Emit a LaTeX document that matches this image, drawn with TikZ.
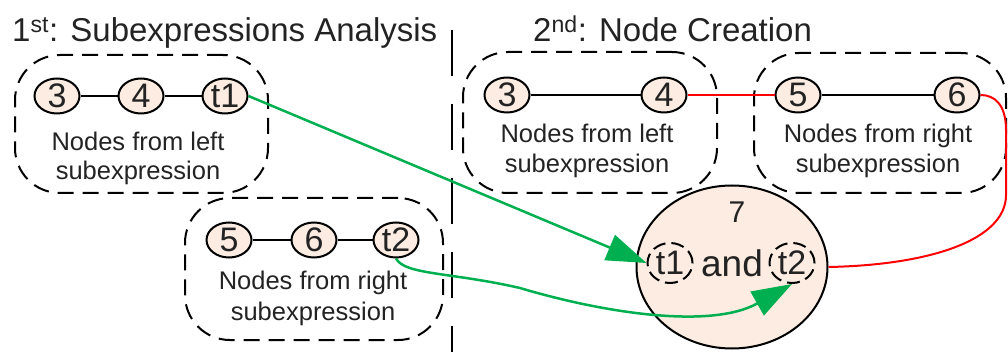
\documentclass[tikz,border=0pt]{standalone}
\usepackage{fontspec}
\setmainfont{Liberation Sans}
\usetikzlibrary{shapes.geometric,arrows.meta}
\definecolor{peach}{RGB}{252,236,225}
\definecolor{txt}{RGB}{35,35,35}
\definecolor{grn}{RGB}{0,176,80}
\definecolor{rd}{RGB}{255,0,0}
\begin{document}
\begin{tikzpicture}[x=1pt,y=-1pt,
  num/.style={ellipse,draw=black,line width=2pt,fill=peach,minimum width=45pt,minimum height=35pt,inner sep=0pt,text=txt,font=\fontsize{34}{34}\selectfont},
  inum/.style={ellipse,draw=black,line width=2pt,dash pattern=on 13pt off 6pt,minimum width=45pt,minimum height=40pt,inner sep=0pt,text=txt,font=\fontsize{34}{34}\selectfont},
  grp/.style={draw=black,line width=2pt,dash pattern=on 16pt off 9pt,rounded corners=45pt,inner sep=0pt},
  lbl/.style={text=txt,font=\fontsize{25.5}{30}\selectfont,anchor=base,inner sep=0pt},
  ttl/.style={text=txt,font=\fontsize{33}{36}\selectfont,anchor=base west,inner sep=0pt},
  sep/.style={line width=2.5pt,black,dash pattern=on 46pt off 28pt},
  link/.style={line width=2pt,black},
  redl/.style={line width=2pt,rd},
  grnl/.style={line width=2.5pt,grn,-{Triangle[length=40pt,width=27pt]}},
]
\useasboundingbox (0,0) rectangle (1008,352);

% titles and separator
\node[ttl] (title1) at (12,42) {1\textsuperscript{st}: Subexpressions Analysis};
\node[ttl] (title2) at (533,42) {2\textsuperscript{nd}: Node Creation};
\draw[sep] (452,30) -- (452,352);

% group boxes
\node[grp,minimum width=253pt,minimum height=138pt] (g1) at (141.5,124) {};
\node[grp,minimum width=258pt,minimum height=142pt] (g2) at (314,269) {};
\node[grp,minimum width=254pt,minimum height=141pt] (g3) at (590,122.5) {};
\node[grp,minimum width=252pt,minimum height=140pt] (g4) at (880,123) {};

% labels
\node[lbl] (l1a) at (138,151) {Nodes from left};
\node[lbl] (l1b) at (138,180) {subexpression};
\node[lbl] (l2a) at (313,290) {Nodes from right};
\node[lbl] (l2b) at (313,320) {subexpression};
\node[lbl] (l3a) at (587,143) {Nodes from left};
\node[lbl] (l3b) at (587,173) {subexpression};
\node[lbl] (l4a) at (878,143) {Nodes from right};
\node[lbl] (l4b) at (878,173) {subexpression};

% big node 7
\node[ellipse,draw=black,line width=2pt,fill=peach,minimum width=191pt,minimum height=163pt] (n7) at (732,267) {};
\node[text=txt,font=\fontsize{30}{30}\selectfont,inner sep=0pt] (seven) at (737,212) {7};
\node[inum] (it1) at (670,263) {t1};
\node[text=txt,font=\fontsize{37}{37}\selectfont,inner sep=0pt] (andw) at (732,263) {and};
\node[inum] (it2) at (792,263) {t2};

% small nodes
\node[num] (a3) at (57,96) {3};
\node[num] (a4) at (141,96) {4};
\node[num] (at1) at (225,96) {t1};
\node[num] (b5) at (229,240) {5};
\node[num] (b6) at (314,240) {6};
\node[num] (bt2) at (396,240) {t2};
\node[num] (c3) at (507,95) {3};
\node[num] (c4) at (664,95) {4};
\node[num] (d5) at (798,95) {5};
\node[num] (d6) at (957,95) {6};

% links
\draw[link] (a3) -- (a4);
\draw[link] (a4) -- (at1);
\draw[link] (b5) -- (b6);
\draw[link] (b6) -- (bt2);
\draw[link] (c3) -- (c4);
\draw[link] (d5) -- (d6);

% red links
\draw[redl] (c4.east) -- (d5.west);
\draw[redl] (d6.east) .. controls (995,95) and (1006,105) .. (1006,130) -- (1006,195) .. controls (1006,240) and (930,265) .. (n7.east);

% green arrows
\draw[grnl] (at1.east) -- (it1.west);
\draw[grnl] (bt2.south) .. controls (405,275) and (450,272) .. (520,288) .. controls (600,312) and (710,330) .. (it2.south);
\end{tikzpicture}
\end{document}
